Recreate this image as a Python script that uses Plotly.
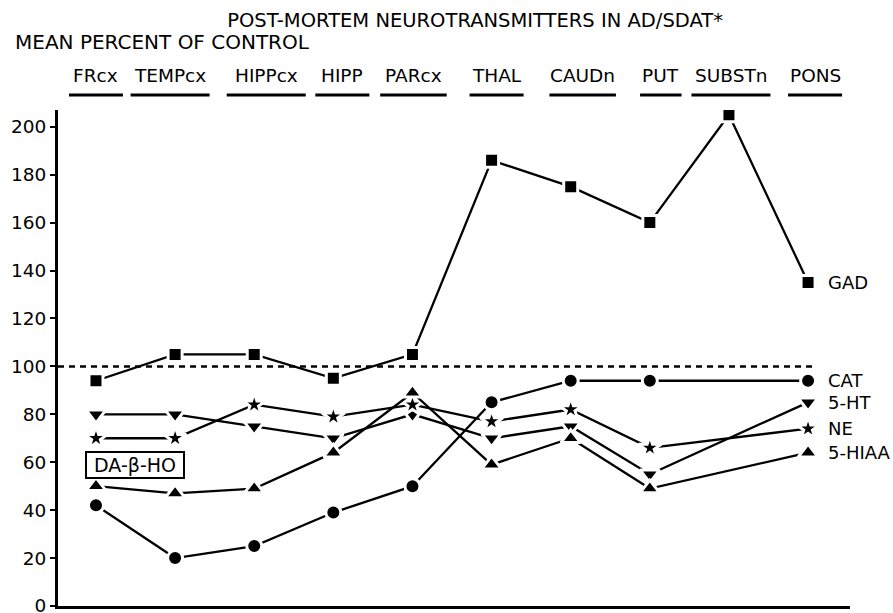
import plotly.graph_objects as go

# Régions cérébrales (ordre de l'axe x)
regions = ["FRcx", "TEMPcx", "HIPPcx", "HIPP", "PARcx", "THAL", "CAUDn", "PUT", "SUBSTn", "PONS"]

gad = [94, 105, 105, 95, 105, 186, 175, 160, 205, 135]
cat = [42, 20, 25, 39, 50, 85, 94, 94, None, 94]
ht5 = [80, 80, 75, 70, 80, 70, 75, 55, None, 85]
ne = [70, 70, 84, 79, 84, 77, 82, 66, None, 74]
hiaa5 = [50, 47, 49, 64, 89, 59, 70, 49, None, 64]

series_names = ["GAD", "CAT", "5-HT", "NE", "5-HIAA"]
series_values = [gad, cat, ht5, ne, hiaa5]

y_ticks = list(range(0, 201, 20))
control_level = 100
box_label = "DA-β-HO"
box_value = 59

FONT = "DejaVu Sans"
symbols = ["square", "circle", "triangle-down", "star", "triangle-up"]
sizes = [14, 15, 17, 17, 17]
# décalage (px) des en-têtes par rapport au centre de chaque catégorie
header_dx = [0, -5, 12, 9, 1, 5, 12, 11, 2, 7]

fig = go.Figure()

for name, vals, sym, sz in zip(series_names, series_values, symbols, sizes):
    fig.add_trace(go.Scatter(
        x=regions, y=vals, name=name, mode="lines+markers",
        connectgaps=True,
        line=dict(color="black", width=2.3),
        marker=dict(symbol=sym, size=sz, color="black",
                    line=dict(color="white", width=3)),
    ))
    # étiquette à droite du dernier point
    fig.add_annotation(x=regions[-1], y=vals[-1], text=name, showarrow=False,
                       xanchor="left", xshift=18, font=dict(size=18, color="black", family=FONT))

# ligne pointillée du niveau contrôle (100 %)
fig.add_shape(type="line", xref="x", yref="y", x0=-0.48, x1=9.06,
              y0=control_level, y1=control_level,
              line=dict(color="black", width=2.5, dash="6px,5px"), layer="below")

# en-têtes des régions avec soulignement
for i, r in enumerate(regions):
    fig.add_annotation(x=r, y=1.07, xref="x", yref="paper", text=r, showarrow=False,
                       yanchor="middle", xshift=header_dx[i],
                       font=dict(size=18.5, color="black", family=FONT))
    w = 12.5 * len(r) + 4
    fig.add_shape(type="line", xref="x", yref="paper", xsizemode="pixel", xanchor=i,
                  x0=header_dx[i] - w / 2, x1=header_dx[i] + w / 2, y0=1.030, y1=1.030,
                  line=dict(color="black", width=3))

# encadré DA-β-HO
fig.add_annotation(x=regions[0], y=box_value, text=" " + box_label + " ", showarrow=False,
                   xanchor="left", xshift=-11, bordercolor="black", borderwidth=2, borderpad=1,
                   font=dict(size=19, color="black", family=FONT))

fig.add_annotation(x=-0.057, y=1.137, xref="paper", yref="paper", text="MEAN PERCENT OF CONTROL",
                   showarrow=False, xanchor="left", yanchor="middle",
                   font=dict(size=20, color="black", family=FONT))

fig.update_layout(
    width=893, height=613,
    margin=dict(l=58, r=43, t=110, b=7),
    paper_bgcolor="white", plot_bgcolor="white",
    showlegend=False,
    font=dict(family=FONT, color="black"),
    title=dict(text="POST-MORTEM NEUROTRANSMITTERS IN AD/SDAT*", x=0.532, xanchor="center",
               y=0.967, yanchor="middle", yref="container",
               font=dict(size=19.5, color="black", family=FONT)),
    xaxis=dict(type="category", range=[-0.48, 9.53], showline=True, linewidth=3,
               linecolor="black", showticklabels=False, ticks="", showgrid=False, zeroline=False,
               automargin=False),
    yaxis=dict(range=[0, 207], tickvals=y_ticks, ticks="outside", ticklen=5, tickwidth=2,
               tickcolor="black", showline=True, linewidth=3, linecolor="black",
               ticklabeloverflow="allow", automargin=False,
               showgrid=False, zeroline=False, tickfont=dict(size=18.5, color="black", family=FONT)),
)

# pas de marge autour du graphique dans la page, pas de barre d'outils
fig.write_html("out.html", config={"displayModeBar": False},
               post_script="document.body.style.margin='0';")
